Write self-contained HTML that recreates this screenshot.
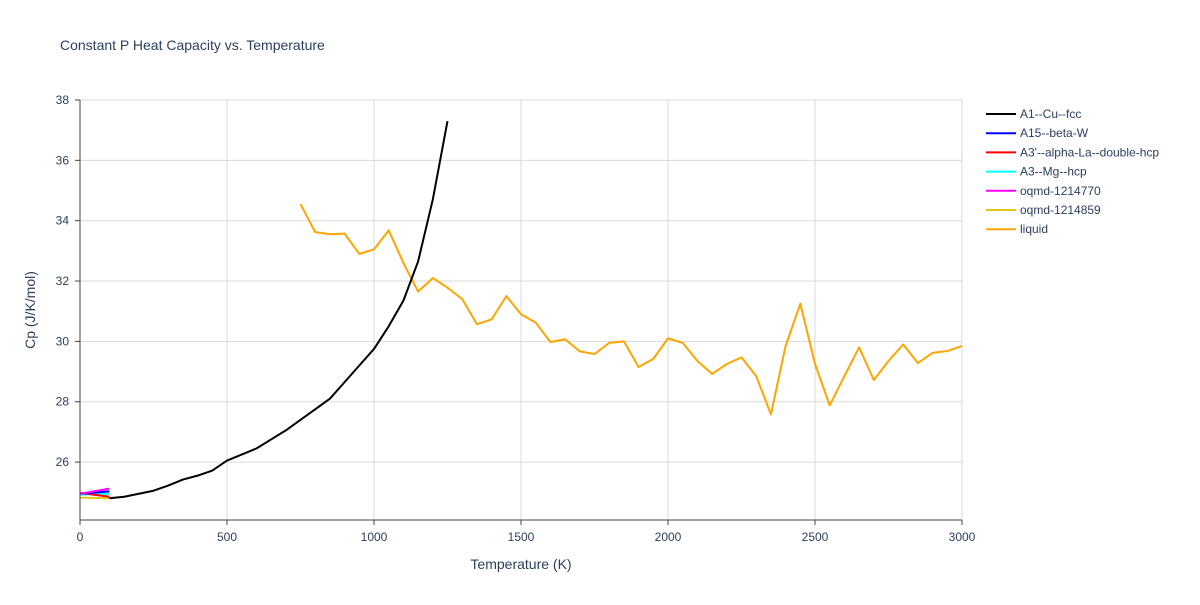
<!DOCTYPE html>
<html><head><meta charset="utf-8"><style>
body{margin:0;background:#fff;font-family:"Liberation Sans",sans-serif}
svg text{font-family:"Liberation Sans",sans-serif;fill:#2a3f5f}
</style></head><body>
<svg id="chart" width="1200" height="600">
<text x="60" y="50" font-size="14">Constant P Heat Capacity vs. Temperature</text>
<g id="grid"></g><g id="series"></g><g id="axes"></g><g id="legend"></g>
<text x="521" y="569" font-size="14" text-anchor="middle">Temperature (K)</text>
<text transform="translate(35,310) rotate(-90)" font-size="14" text-anchor="middle">Cp (J/K/mol)</text>
</svg>
<script>
const xTicks=[0,500,1000,1500,2000,2500,3000];
const yTicks=[26,28,30,32,34,36,38];
const seriesNames=["A1--Cu--fcc","A15--beta-W","A3'--alpha-La--double-hcp","A3--Mg--hcp","oqmd-1214770","oqmd-1214859","liquid"];
const seriesColors=["#000000","#0000ff","#ff0000","#00ffff","#ff00ff","#e6c619","#ffa500"];
const fccT=[100,150,200,250,300,350,400,450,500,550,600,650,700,750,800,850,900,950,1000,1050,1100,1150,1200,1250];
const fccCp=[24.8,24.85,24.95,25.05,25.22,25.42,25.55,25.72,26.05,26.25,26.45,26.75,27.05,27.4,27.75,28.1,28.65,29.2,29.75,30.5,31.35,32.65,34.7,37.3];
const lowT=[0,100];
const betaWCp=[24.95,25.03];
const laCp=[24.98,24.85];
const mgCp=[24.92,24.95];
const oqmd770Cp=[24.95,25.12];
const oqmd859Cp=[24.82,24.8];
const liqT=[750,800,850,900,950,1000,1050,1100,1150,1200,1250,1300,1350,1400,1450,1500,1550,1600,1650,1700,1750,1800,1850,1900,1950,2000,2050,2100,2150,2200,2250,2300,2350,2400,2450,2500,2550,2600,2650,2700,2750,2800,2850,2900,2950,3000];
const liqCp=[34.55,33.62,33.55,33.57,32.9,33.05,33.68,32.6,31.65,32.1,31.78,31.4,30.57,30.73,31.5,30.9,30.62,29.98,30.07,29.67,29.58,29.95,30.0,29.15,29.42,30.1,29.95,29.35,28.92,29.25,29.47,28.85,27.58,29.85,31.25,29.25,27.88,28.85,29.8,28.72,29.35,29.9,29.28,29.62,29.68,29.85];
const X0=80,X1=962,Y0=520,Y1=100,ymin=24.08,ymax=38;
const sx=v=>X0+(v/3000)*(X1-X0);
const sy=v=>Y0-(v-ymin)/(ymax-ymin)*(Y0-Y1);
const NS="http://www.w3.org/2000/svg";
function mk(t,a,p){const e=document.createElementNS(NS,t);for(const k in a)e.setAttribute(k,a[k]);p.appendChild(e);return e;}
const grid=document.getElementById('grid'),axes=document.getElementById('axes'),ser=document.getElementById('series'),leg=document.getElementById('legend');
xTicks.forEach(t=>{
 if(t>0){const l=mk('line',{x1:sx(t),x2:sx(t),y1:Y1,y2:Y0,stroke:'#d9d9d9'},grid);
 
 }
 const tx=mk('text',{x:sx(t),y:Y0+21,'font-size':12,'text-anchor':'middle'},axes);tx.textContent=t;
 
 
 mk('line',{x1:sx(t),x2:sx(t),y1:Y0,y2:Y0+5,stroke:'#444'},axes);
});
yTicks.forEach(t=>{
 const l=mk('line',{x1:X0,x2:X1,y1:sy(t),y2:sy(t),stroke:'#d9d9d9'},grid);
 
 
 const tx=mk('text',{x:X0-11,y:sy(t)+4,'font-size':12,'text-anchor':'end'},axes);tx.textContent=t;
 
 
 mk('line',{x1:X0-5,x2:X0,y1:sy(t),y2:sy(t),stroke:'#444'},axes);
});
mk('line',{x1:X0,x2:X0,y1:Y1,y2:Y0,stroke:'#444'},axes);
mk('line',{x1:X0,x2:X1,y1:Y0,y2:Y0,stroke:'#444'},axes);
const data=[[fccT,fccCp],[lowT,betaWCp],[lowT,laCp],[lowT,mgCp],[lowT,oqmd770Cp],[lowT,oqmd859Cp],[liqT,liqCp]];
const order=[3,5,2,1,4,6,0];
order.forEach(i=>{
 const [xs,ys]=data[i];
 const p=mk('polyline',{points:xs.map((x,j)=>sx(x)+','+sy(ys[j])).join(' '),fill:'none',stroke:seriesColors[i],'stroke-width':2,'stroke-linejoin':'round'},ser);
 
 
});
seriesNames.forEach((n,i)=>{
 const y=114+i*19.2;
 const g=mk('g',{},leg);
 
 
 mk('line',{x1:986,x2:1016,y1:y,y2:y,stroke:seriesColors[i],'stroke-width':2},g);
 const t=mk('text',{x:1020,y:y+4,'font-size':12},g);t.textContent=n;
});
</script>
</body></html>
